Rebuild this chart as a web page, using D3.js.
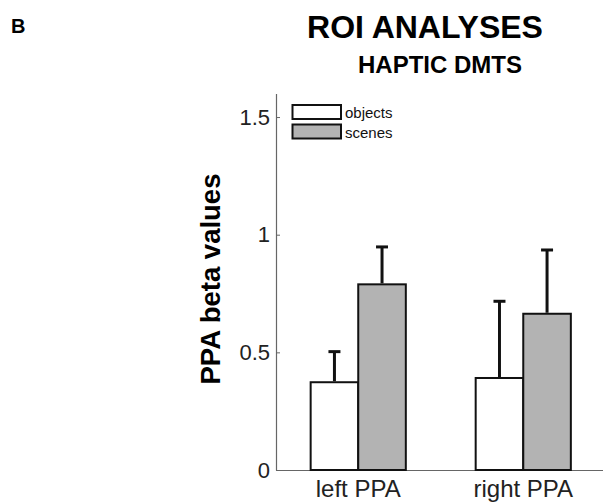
<!DOCTYPE html>
<html>
<head>
<meta charset="utf-8">
<script src="https://cdn.jsdelivr.net/npm/d3@7"></script>
<style>
  body { margin: 0; background: #fff; }
  svg { display: block; font-family: 'Liberation Sans', Arial, Helvetica, sans-serif; }
</style>
</head>
<body>
<div id="chart"></div>
<script>
/* global d3 */

// data
const regions = ['left PPA', 'right PPA']
const conditions = ['objects', 'scenes']
const objectsMean = [0.373, 0.391]
const objectsErr = [0.130, 0.326]
const scenesMean = [0.789, 0.664]
const scenesErr = [0.159, 0.271]
const yTicks = [0, 0.5, 1, 1.5]

let DrawRoi = function (id) {
    this.svgWidth = 603
    this.svgHeight = 502
    this.margin = { top: 93.5, left: 276, bottom: 32 }
    this.plotRight = 605.5
    this.baseY = this.svgHeight - this.margin.bottom

    this.svg = d3.select(id).append('svg')
        .attr('width', this.svgWidth)
        .attr('height', this.svgHeight)

    this.colors = { objects: '#ffffff', scenes: '#b3b3b3' }
}

DrawRoi.prototype.titles = function () {
    this.svg.append('text')
        .attr('x', 11).attr('y', 33)
        .style('font-size', '20px').style('font-weight', 'bold')
        .text('B')

    this.svg.append('text')
        .attr('x', 425).attr('y', 37.5)
        .attr('text-anchor', 'middle')
        .style('font-size', '32px').style('font-weight', 'bold')
        .text('ROI ANALYSES')

    this.svg.append('text')
        .attr('x', 440).attr('y', 73)
        .attr('text-anchor', 'middle')
        .style('font-size', '24px').style('font-weight', 'bold')
        .text('HAPTIC DMTS')
}

DrawRoi.prototype.barChart = function () {
    let self = this
    let data = regions.map(function (r, i) {
        return {
            region: r,
            values: [
                { key: 'objects', mean: objectsMean[i], err: objectsErr[i] },
                { key: 'scenes', mean: scenesMean[i], err: scenesErr[i] }
            ]
        }
    })

    let x0 = d3.scaleBand()
        .domain(regions)
        .range([this.margin.left, this.plotRight])
        .paddingInner(0.4233)
        .paddingOuter(0.21)

    let x1 = d3.scaleBand()
        .domain(conditions)
        .range([0, x0.bandwidth()])

    let yScale = d3.scaleLinear()
        .domain([0, 1.6])
        .range([this.baseY, this.margin.top])

    // Y axis, ticks pointing inward like matlab
    let yAxis = d3.axisLeft(yScale)
        .tickValues(yTicks)
        .tickFormat(function (d) { return String(d) })
        .tickSizeInner(-4)
        .tickSizeOuter(0)
        .tickPadding(6)

    let gy = this.svg.append('g')
        .attr('class', 'y axis')
        .attr('transform', 'translate(' + this.margin.left + ',0)')
        .call(yAxis)
    gy.select('.domain').attr('stroke', '#666').attr('stroke-width', 1.2)
    gy.selectAll('.tick line').attr('stroke', '#666')
    gy.selectAll('.tick text')
        .style('font-size', '22px')
        .attr('fill', '#222')

    // X axis
    let xAxis = d3.axisBottom(x0)
        .tickSize(0)
        .tickPadding(10)

    let gx = this.svg.append('g')
        .attr('class', 'x axis')
        .attr('transform', 'translate(0,' + this.baseY + ')')
        .call(xAxis)
    gx.select('.domain').attr('stroke', '#666').attr('stroke-width', 1.2)
    gx.selectAll('.tick text')
        .style('font-size', '24px')
        .attr('fill', '#222')

    // bars
    let groups = this.svg.selectAll('.group')
        .data(data)
        .enter().append('g')
        .attr('class', 'group')
        .attr('transform', function (d) { return 'translate(' + x0(d.region) + ',0)' })

    groups.selectAll('rect')
        .data(function (d) { return d.values })
        .enter().append('rect')
        .attr('x', function (d) { return x1(d.key) })
        .attr('y', function (d) { return yScale(d.mean) })
        .attr('width', x1.bandwidth())
        .attr('height', function (d) { return yScale(0) - yScale(d.mean) })
        .attr('fill', function (d) { return self.colors[d.key] })
        .attr('stroke', '#111')
        .attr('stroke-width', 2)

    // upper error bars
    let errs = groups.selectAll('.err')
        .data(function (d) { return d.values })
        .enter().append('g')
        .attr('class', 'err')
        .attr('stroke', '#111')
        .attr('stroke-width', 3)

    errs.append('line')
        .attr('x1', function (d) { return x1(d.key) + x1.bandwidth() / 2 })
        .attr('x2', function (d) { return x1(d.key) + x1.bandwidth() / 2 })
        .attr('y1', function (d) { return yScale(d.mean) - 1 })
        .attr('y2', function (d) { return yScale(d.mean + d.err) })

    errs.append('line')
        .attr('x1', function (d) { return x1(d.key) + x1.bandwidth() / 2 - 6 })
        .attr('x2', function (d) { return x1(d.key) + x1.bandwidth() / 2 + 6 })
        .attr('y1', function (d) { return yScale(d.mean + d.err) })
        .attr('y2', function (d) { return yScale(d.mean + d.err) })

    // y label
    this.svg.append('text')
        .attr('transform', 'translate(220,279) rotate(-90)')
        .attr('text-anchor', 'middle')
        .style('font-size', '27.5px').style('font-weight', 'bold')
        .text('PPA beta values')
}

DrawRoi.prototype.legend = function () {
    let self = this
    let items = this.svg.append('g')
        .attr('class', 'legend')
        .selectAll('g')
        .data(conditions)
        .enter().append('g')
        .attr('transform', function (d, i) { return 'translate(292.5,' + (105 + i * 19.5) + ')' })

    items.append('rect')
        .attr('width', 48.5)
        .attr('height', 14)
        .attr('fill', function (d) { return self.colors[d] })
        .attr('stroke', '#111')
        .attr('stroke-width', 2)

    items.append('text')
        .attr('x', 52.5)
        .attr('y', 13)
        .style('font-size', '15px')
        .attr('fill', '#111')
        .text(function (d) { return d })
}

let chart = new DrawRoi('#chart')
chart.titles()
chart.barChart()
chart.legend()
</script>
</body>
</html>
